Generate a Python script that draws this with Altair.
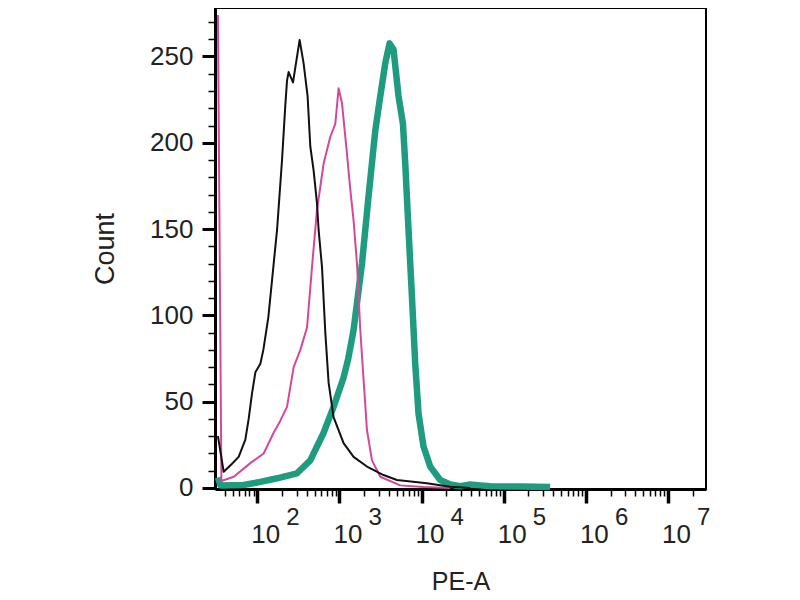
import altair as alt
import pandas as pd

# ---- data (PE-A value, event count) ----
black_pe = [33.1, 38.9, 49.2, 59.2, 71.4, 78.4, 86.2, 94.6, 108.8, 118.3, 136.1, 156.5,
            173.7, 199.7, 219.1, 229.7, 240.3, 271.8, 327.1, 365.7, 409, 441, 484, 532,
            556.8, 612.6, 672, 737, 847, 1122, 1484, 2160, 3440, 5005, 11600, 22284, 39020]
black_ct = [30, 9.4, 14, 18, 28, 40, 55, 67, 72, 80, 99, 128,
            149.5, 190, 222, 236, 241, 235, 259.6, 246, 227, 198, 184, 165,
            149.5, 128, 90, 61, 41, 26, 18, 12.4, 7.5, 4.6, 2.7, 0.75, 0]

mag_pe = [33.1, 36.5, 51.5, 82.2, 119.3, 157.9, 190.5, 229.7, 276.6, 333.6, 402.5, 462.6,
          532, 641, 773, 889, 975, 1072, 1209, 1353, 1484, 1633, 1791, 1965, 2160, 2486,
          3136, 5495, 10450, 22284]
mag_ct = [274, 4, 6.5, 14.4, 20, 32, 39, 47, 70, 80, 93, 128,
          161, 188, 203.5, 211, 231.6, 223, 198, 173, 155, 130, 91.5, 62.6, 33.6, 16,
          6.5, 1.5, 0.5, 0]

teal_pe = [33.1, 35.5, 67.6, 108.8, 173.7, 304, 441, 641, 847, 1122, 1279, 1484, 1878,
           2259, 2726, 3136, 3606, 4069, 4550, 5236, 5922, 6318, 6928, 7621, 8358, 9170,
           10546, 12724, 16840, 22284, 29490, 39020, 51640, 68320, 158300, 366800]
teal_ct = [6, 1.5, 1.7, 3.5, 5.6, 8.5, 16, 32, 47, 64, 75, 91.5, 130,
           169, 207, 227, 246, 257.6, 254, 227, 211, 188, 149.5, 111, 72, 43,
           24, 12.4, 4.6, 2, 1, 2, 1.5, 1, 0.8, 0.5]

decades = [1e2, 1e3, 1e4, 1e5, 1e6, 1e7]
decade_base = ["10", "10", "10", "10", "10", "10"]
decade_exp = ["2", "3", "4", "5", "6", "7"]

x_ticks = [m * d for d in [10, 100, 1000, 1e4, 1e5, 1e6] for m in range(1, 10)
           if 30 <= m * d <= 2.9e7] + [1e7, 2e7]
y_ticks = list(range(0, 280, 10))

FONT = "Liberation Sans"
TXT = "#222222"

x_scale = alt.Scale(type="log", domain=[30.5, 2.9e7], nice=False)
y_scale = alt.Scale(domain=[-0.6, 278.1], nice=False)

is_decade = "abs(log(datum.value)/LN10 - round(log(datum.value)/LN10)) < 0.0001"
is_fifty = "datum.value % 50 === 0"

x_axis = alt.Axis(
    values=x_ticks, labels=False, grid=False,
    title="PE-A", titleFont=FONT, titleFontSize=25, titleFontWeight="normal",
    titleColor=TXT, titlePadding=65,
    domainColor="black", domainWidth=3,
    tickColor="black",
    tickSize={"condition": {"test": is_decade, "value": 14}, "value": 7},
    tickWidth={"condition": {"test": is_decade, "value": 3.5}, "value": 1.5},
)
y_axis = alt.Axis(
    values=y_ticks, grid=False,
    labelExpr="datum.value % 50 === 0 ? datum.label : ''",
    labelFont=FONT, labelFontSize=26, labelColor=TXT, labelPadding=9,
    title="Count", titleFont=FONT, titleFontSize=27, titleFontWeight="normal",
    titleColor=TXT, titlePadding=30,
    domainColor="black", domainWidth=3,
    tickColor="black",
    tickSize={"condition": {"test": is_fifty, "value": 13}, "value": 7},
    tickWidth={"condition": {"test": is_fifty, "value": 3}, "value": 1.5},
)


def curve(pe, ct, color, width):
    df = pd.DataFrame({"pe": pe, "count": ct})
    return alt.Chart(df).mark_line(color=color, strokeWidth=width, strokeJoin="round").encode(
        x=alt.X("pe:Q", scale=x_scale, axis=x_axis),
        y=alt.Y("count:Q", scale=y_scale, axis=y_axis),
    )


teal = curve(teal_pe, teal_ct, "#1f9b7f", 6.5)
magenta = curve(mag_pe, mag_ct, "#d4489c", 2)
black = curve(black_pe, black_ct, "#111111", 2)

lab_df = pd.DataFrame({"pe": decades, "base": decade_base, "exp": decade_exp})
base_txt = alt.Chart(lab_df).mark_text(
    align="left", baseline="alphabetic", font=FONT, fontSize=26, color=TXT, dx=-6
).encode(x=alt.X("pe:Q", scale=x_scale), y=alt.value(535), text="base:N")
exp_txt = alt.Chart(lab_df).mark_text(
    align="left", baseline="alphabetic", font=FONT, fontSize=24, color=TXT, dx=29
).encode(x=alt.X("pe:Q", scale=x_scale), y=alt.value(517), text="exp:N")

chart = alt.layer(teal, magenta, black, base_txt, exp_txt).properties(
    width=491, height=481,
    background="white",
    autosize=alt.AutoSizeParams(type="none"),
    padding={"left": 207, "top": 0, "right": 60, "bottom": 110},
).configure_view(stroke="black", strokeWidth=2)

chart.save("out.html", embed_options={"renderer": "svg", "actions": False})
